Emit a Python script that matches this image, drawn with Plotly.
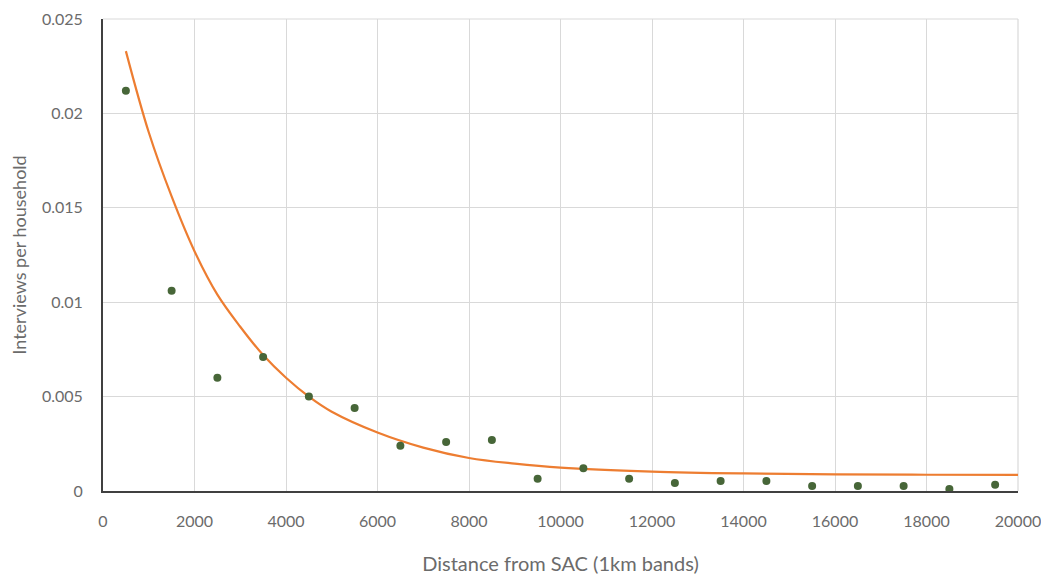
import plotly.graph_objects as go

# Observed data (1 km bands, midpoints in metres)
distance = [500, 1500, 2500, 3500, 4500, 5500, 6500, 7500, 8500, 9500,
            10500, 11500, 12500, 13500, 14500, 15500, 16500, 17500, 18500, 19500]
interviews = [0.0212, 0.0106, 0.0060, 0.0071, 0.0050, 0.0044, 0.0024, 0.0026, 0.0027, 0.00065,
              0.0012, 0.00065, 0.00042, 0.00053, 0.00053, 0.00027, 0.00027, 0.00027, 0.0001, 0.00033]

# Fitted trend curve
fit_x = [500, 1000, 1500, 2000, 2500, 3000, 3500, 4000, 4500, 5000, 6000, 7000,
         8000, 9000, 10000, 12000, 14000, 16000, 18000, 20000]
fit_y = [0.0233, 0.0190, 0.0156, 0.0127, 0.0104, 0.0087, 0.0072, 0.0060, 0.0050, 0.0042,
         0.0031, 0.0023, 0.00175, 0.00145, 0.00124, 0.00103, 0.00093, 0.00088, 0.00086, 0.00085]

x_ticks = [0, 2000, 4000, 6000, 8000, 10000, 12000, 14000, 16000, 18000, 20000]
y_ticks = [0, 0.005, 0.01, 0.015, 0.02, 0.025]
y_tick_text = ["0", "0.005", "0.01", "0.015", "0.02", "0.025"]

fig = go.Figure()
fig.add_trace(go.Scatter(
    x=fit_x, y=fit_y, mode="lines", line=dict(color="#ED7D31", width=2.2, shape="spline"),
    showlegend=False, hoverinfo="skip"))
fig.add_trace(go.Scatter(
    x=distance, y=interviews, mode="markers",
    marker=dict(color="#476638", size=8), showlegend=False))

font_family = "Lato, 'Open Sans', sans-serif"
fig.update_layout(
    width=1049, height=583,
    margin=dict(l=95, r=39, t=11, b=100),
    paper_bgcolor="white", plot_bgcolor="white",
    font=dict(family=font_family, color="#6B6B6B", size=16),
)
fig.update_xaxes(
    range=[0, 20000], tickvals=x_ticks, ticktext=[str(v) for v in x_ticks],
    showgrid=True, gridcolor="#D9D9D9", gridwidth=1.2,
    showline=True, linecolor="#404040", linewidth=2, mirror=False,
    zeroline=False, ticks="", ticklabelstandoff=15,
    title=dict(text="Distance from SAC (1km bands)", font=dict(size=20, color="#6B6B6B"), standoff=28),
    automargin=False,
)
fig.update_yaxes(
    range=[0, 0.025], tickvals=y_ticks, ticktext=y_tick_text,
    showgrid=True, gridcolor="#D9D9D9", gridwidth=1.2,
    showline=True, linecolor="#404040", linewidth=2,
    zeroline=False, ticks="", ticklabelstandoff=15,
    title=dict(text="Interviews per household", font=dict(size=18, color="#6B6B6B"), standoff=11),
    automargin=False,
)
# top and right border as grid-like lines
fig.add_shape(type="line", xref="paper", yref="paper", x0=0, x1=1, y0=1, y1=1,
              line=dict(color="#D9D9D9", width=1.2), layer="below")
fig.add_shape(type="line", xref="paper", yref="paper", x0=1, x1=1, y0=0, y1=1,
              line=dict(color="#D9D9D9", width=1.2), layer="below")

fig.write_html("out.html")
